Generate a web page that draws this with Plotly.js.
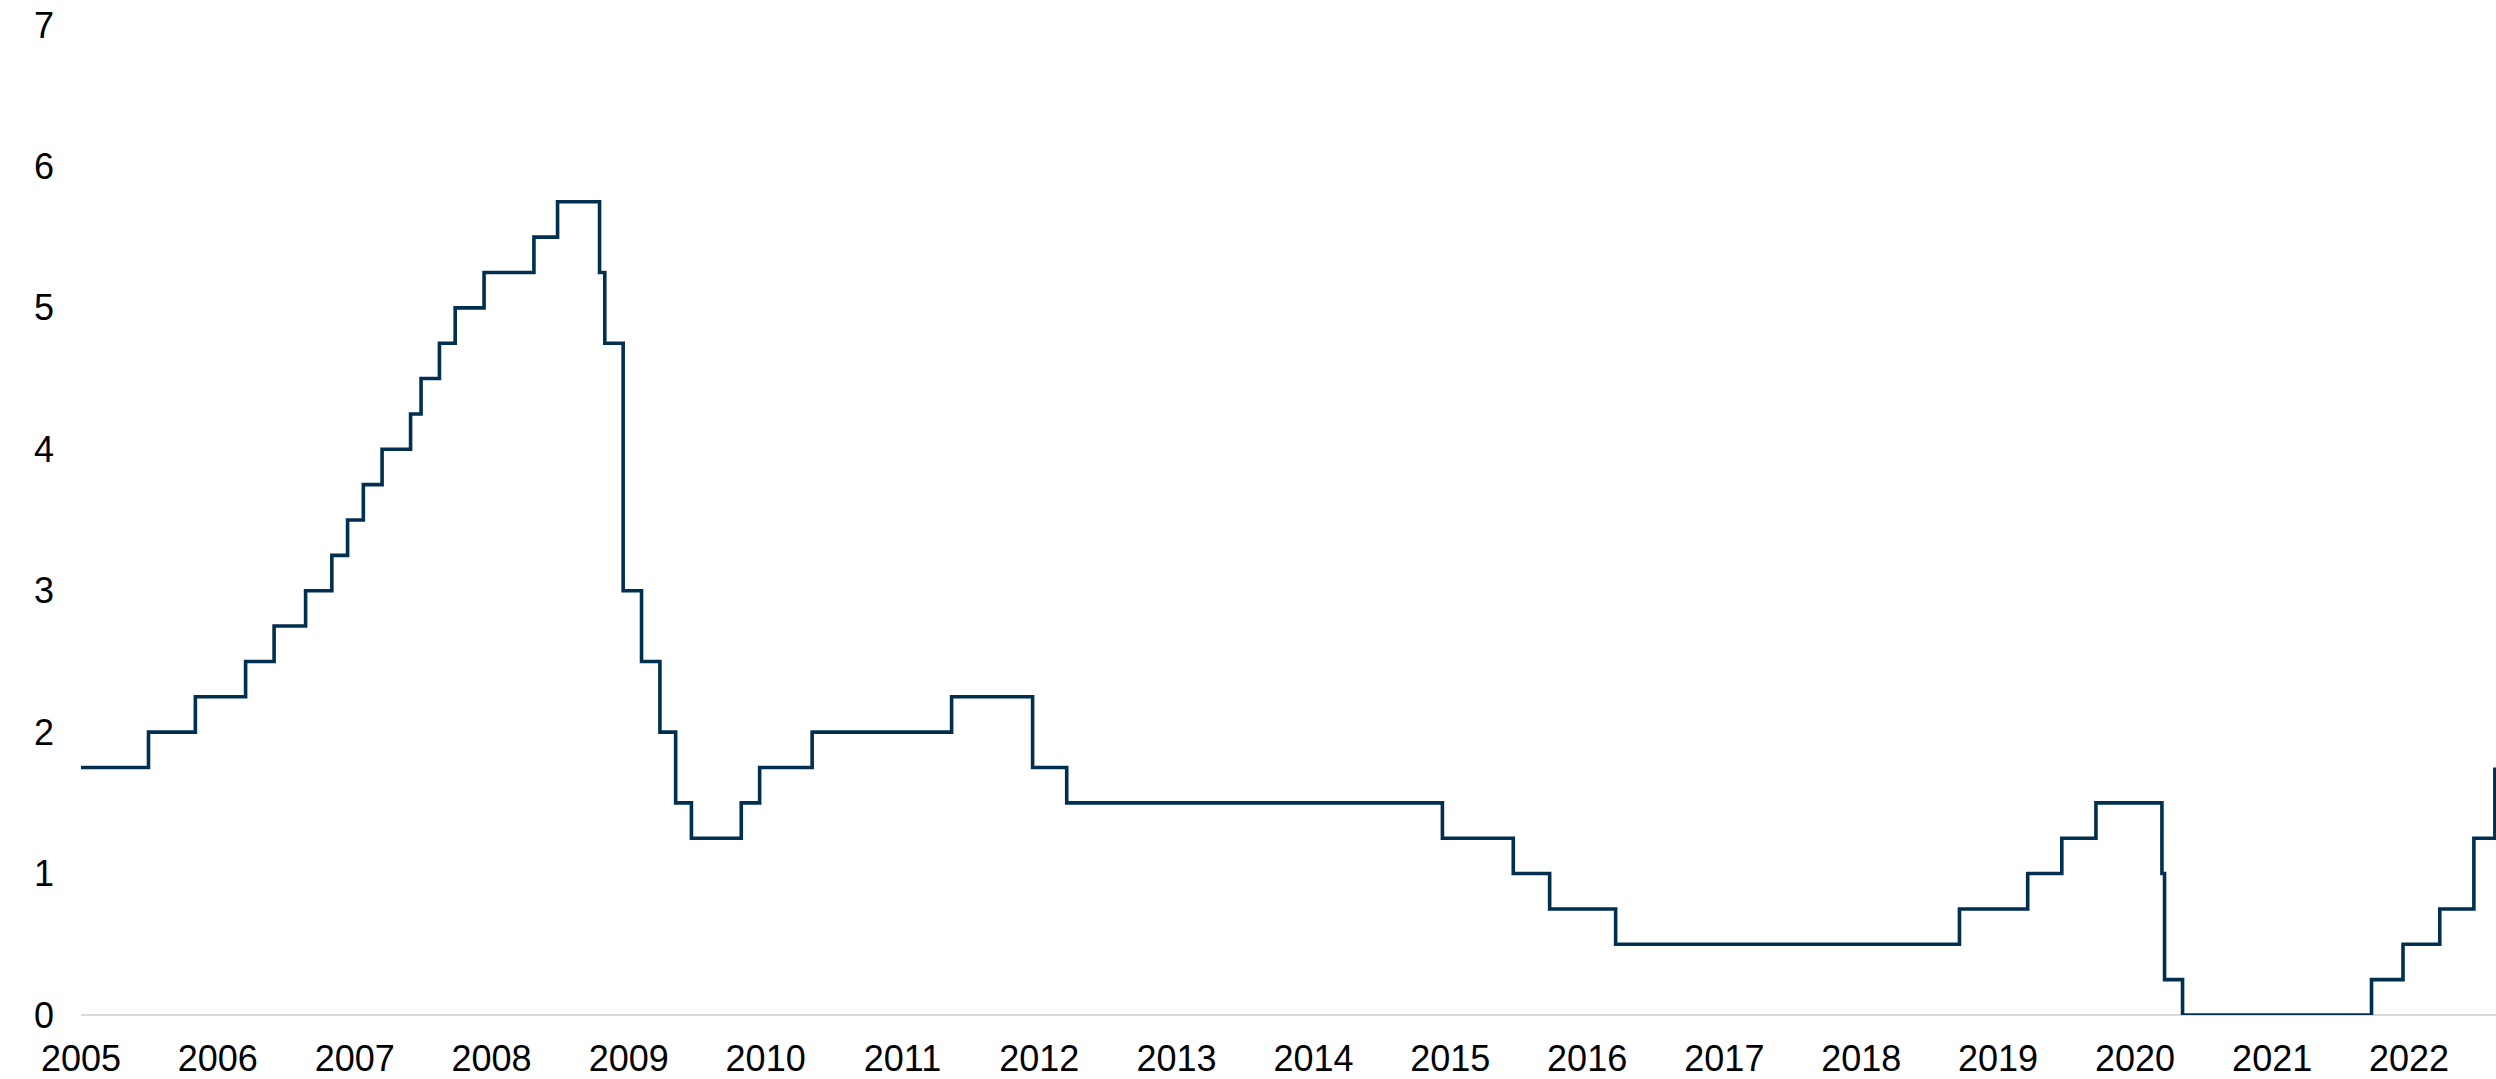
<!DOCTYPE html>
<html>
<head>
<meta charset="utf-8">
<script src="https://cdn.plot.ly/plotly-3.0.1.min.js"></script>
<style>
  html, body { margin: 0; padding: 0; background: #ffffff; }
  #chart { width: 2496px; height: 1079px; }
</style>
</head>
<body>
<div id="chart"></div>
<script>
// Policy rate change dates (step series) and rate levels (per cent)
const rateDates = [
  '2005-01-01', '2005-06-30', '2005-11-02', '2006-03-16', '2006-05-31',
  '2006-08-23', '2006-11-01', '2006-12-13', '2007-01-24', '2007-03-15',
  '2007-05-30', '2007-06-27', '2007-08-15', '2007-09-26', '2007-12-12',
  '2008-04-23', '2008-06-25', '2008-10-15', '2008-10-29', '2008-12-17',
  '2009-02-04', '2009-03-25', '2009-05-06', '2009-06-17', '2009-10-28',
  '2009-12-16', '2010-05-05', '2011-05-12', '2011-12-14', '2012-03-14',
  '2014-12-11', '2015-06-18', '2015-09-23', '2016-03-17', '2018-09-20',
  '2019-03-21', '2019-06-20', '2019-09-19', '2020-03-13', '2020-03-20',
  '2020-05-07', '2021-09-23', '2021-12-16', '2022-03-24', '2022-06-23',
  '2022-08-18'
];
const rateValues = [
  1.75, 2.00, 2.25, 2.50, 2.75,
  3.00, 3.25, 3.50, 3.75, 4.00,
  4.25, 4.50, 4.75, 5.00, 5.25,
  5.50, 5.75, 5.25, 4.75, 3.00,
  2.50, 2.00, 1.50, 1.25, 1.50,
  1.75, 2.00, 2.25, 1.75, 1.50,
  1.25, 1.00, 0.75, 0.50, 0.75,
  1.00, 1.25, 1.50, 1.00, 0.25,
  0.00, 0.25, 0.50, 0.75, 1.25,
  1.75
];
const yearTicks = ['2005','2006','2007','2008','2009','2010','2011','2012','2013',
                   '2014','2015','2016','2017','2018','2019','2020','2021','2022'];
const yTicks = [0, 1, 2, 3, 4, 5, 6, 7];

const trace = {
  type: 'scatter',
  mode: 'lines',
  x: rateDates,
  y: rateValues,
  line: { shape: 'hv', color: '#002f4f', width: 3.6 },
  hoverinfo: 'x+y'
};

const layout = {
  width: 2496,
  height: 1079,
  margin: { l: 81, r: 0, t: 25, b: 64 },
  paper_bgcolor: '#ffffff',
  plot_bgcolor: '#ffffff',
  showlegend: false,
  font: { family: 'Liberation Sans, Arial, sans-serif', size: 36, color: '#000000' },
  xaxis: {
    type: 'date',
    range: ['2005-01-01', '2022-08-21'],
    tickmode: 'array',
    tickvals: yearTicks.map(y => y + '-01-01'),
    ticktext: yearTicks,
    showgrid: false,
    zeroline: false,
    showline: false,
    ticks: '',
    ticklabelstandoff: 19,
    tickfont: { family: 'Liberation Sans, Arial, sans-serif', size: 36, color: '#000000' },
    fixedrange: true
  },
  yaxis: {
    range: [0, 7],
    tickmode: 'array',
    tickvals: yTicks,
    ticktext: yTicks.map(String),
    showgrid: false,
    zeroline: true,
    zerolinecolor: '#d9d9d9',
    zerolinewidth: 2,
    showline: false,
    ticks: '',
    ticklabelstandoff: 26,
    tickfont: { family: 'Liberation Sans, Arial, sans-serif', size: 36, color: '#000000' },
    fixedrange: true
  }
};

Plotly.newPlot('chart', [trace], layout, { displayModeBar: false, staticPlot: true });
</script>
</body>
</html>
